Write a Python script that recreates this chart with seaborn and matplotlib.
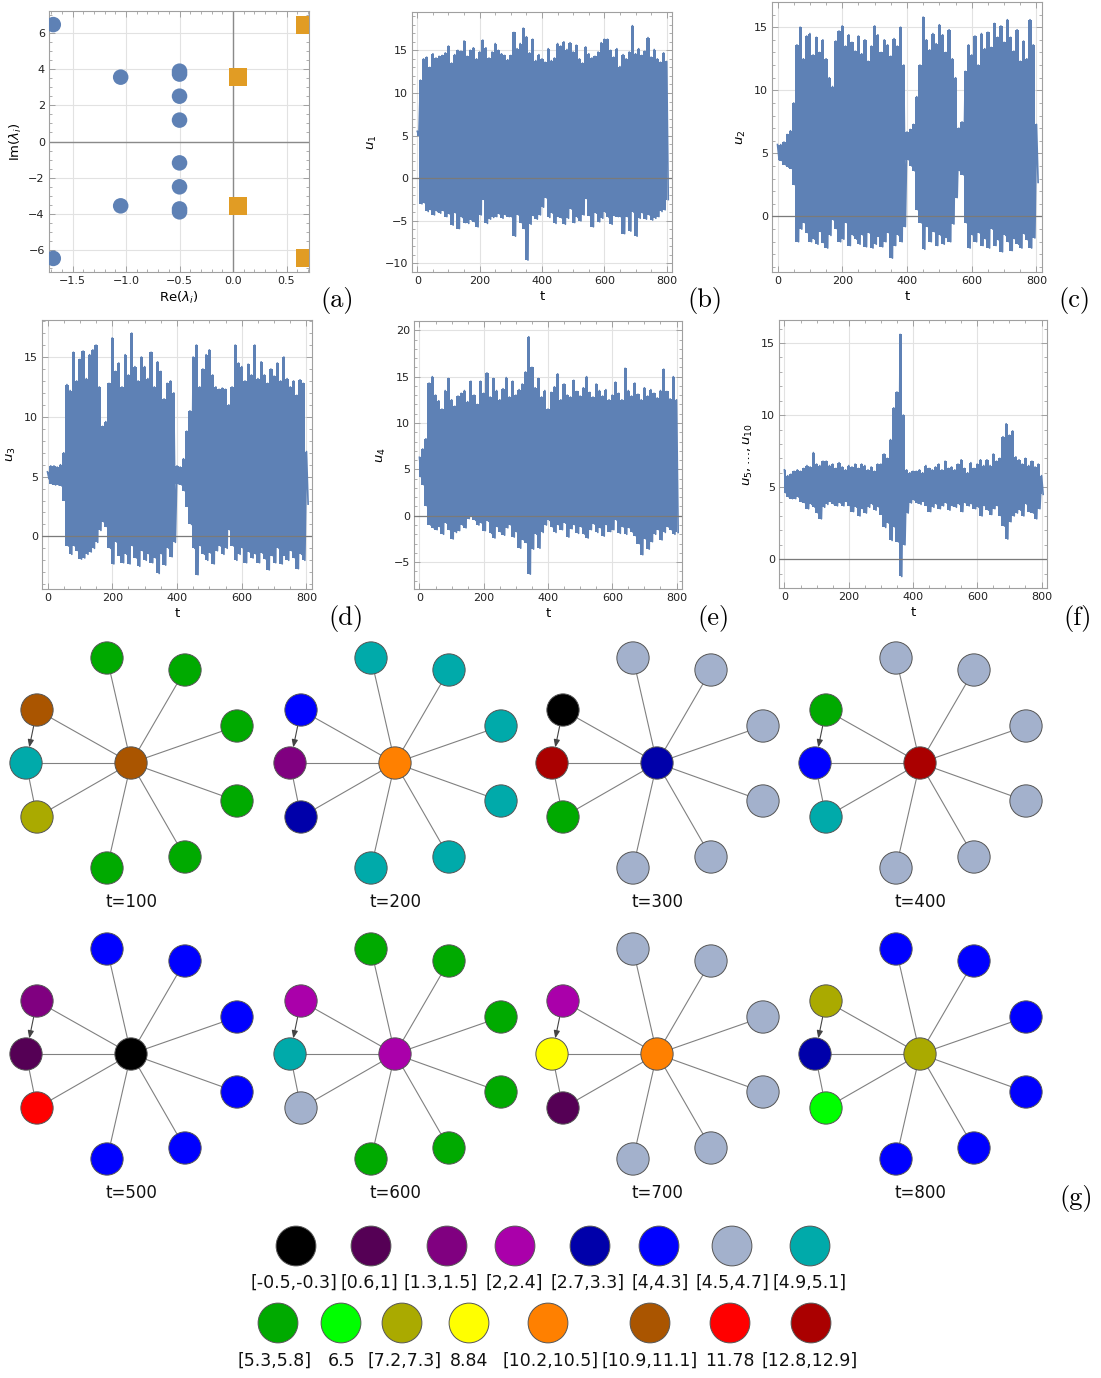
import matplotlib
matplotlib.use("Agg")
import matplotlib.pyplot as plt
import seaborn as sns
import pandas as pd
import numpy as np
from matplotlib.ticker import MultipleLocator

# ---- panel (a): eigenvalues ----
stable_re = [-1.68, -1.68, -1.05, -1.05, -0.5, -0.5, -0.5, -0.5, -0.5, -0.5, -0.5, -0.5]
stable_im = [6.45, -6.45, 3.55, -3.55, 3.72, 3.88, 2.5, 1.18, -1.18, -2.5, -3.72, -3.88]
unstable_re = [0.05, 0.05, 0.67, 0.67]
unstable_im = [3.55, -3.55, 6.45, -6.45]

# ---- panels (b)-(f): upper / lower envelopes read every 10 time units ----
t_grid = list(range(0, 801, 10))

u1_hi = [5.5, 11.5, 14.0, 14.2, 13.0, 14.6, 14.1, 14.3, 14.4, 14.7,
         15.5, 13.5, 14.5, 15.0, 14.9, 16.1, 14.3, 15.0, 15.3, 14.0,
         14.8, 16.2, 15.3, 14.1, 14.8, 15.8, 15.0, 14.6, 14.4, 13.9,
         14.4, 17.1, 15.2, 15.8, 17.6, 16.6, 14.7, 16.3, 13.8, 14.5,
         14.0, 13.6, 15.2, 13.8, 14.1, 15.8, 15.5, 16.0, 15.1, 15.9,
         14.8, 15.6, 14.0, 13.5, 15.4, 14.6, 14.1, 14.3, 14.8, 15.9,
         16.3, 16.3, 15.0, 14.2, 15.2, 13.1, 14.5, 14.0, 14.8, 17.9,
         14.6, 15.2, 14.4, 14.9, 16.5, 14.2, 15.1, 14.0, 13.6, 14.7,
         13.7]
u1_lo = [5.0, -3.0, -2.9, -3.9, -3.7, -4.3, -3.9, -4.1, -3.8, -4.5,
         -4.2, -5.5, -4.1, -5.9, -4.6, -5.2, -5.3, -4.9, -5.1, -5.7,
         -4.3, -2.5, -5.3, -4.8, -4.6, -4.5, -4.2, -4.7, -4.3, -4.5,
         -4.6, -6.8, -4.3, -5.2, -5.9, -9.6, -5.4, -4.4, -4.8, -4.3,
         -3.4, -2.3, -4.6, -4.1, -5.3, -4.5, -4.7, -5.4, -4.7, -3.6,
         -5.2, -4.6, -5.0, -4.3, -2.4, -4.4, -5.7, -4.1, -5.1, -4.7,
         -4.0, -4.6, -5.4, -4.4, -4.5, -4.6, -6.5, -4.5, -6.2, -4.0,
         -6.8, -4.7, -4.1, -4.8, -4.3, -4.9, -4.7, -4.5, -3.9, -3.7,
         -2.5]

u2_hi = [5.7, 5.7, 5.9, 6.5, 6.8, 9.0, 13.6, 15.0, 12.5, 14.3,
         14.5, 12.8, 14.2, 13.0, 14.0, 12.5, 11.0, 10.3, 13.9, 14.7,
         15.1, 13.5, 14.4, 13.8, 13.1, 14.3, 12.9, 14.0, 12.3, 13.5,
         15.1, 14.4, 13.0, 14.0, 13.6, 12.7, 14.1, 13.5, 15.0, 12.0,
         6.7, 6.9, 7.3, 9.5, 12.0, 15.8, 14.0, 13.2, 14.5, 13.7,
         15.2, 14.4, 13.0, 14.8, 12.5, 11.0, 7.0, 7.5, 11.5, 13.6,
         12.8, 14.3, 12.0, 14.5, 13.3, 14.6, 13.4, 15.3, 14.2, 15.1,
         13.8, 15.6, 14.2, 13.1, 14.8, 12.3, 13.9, 12.5, 15.6, 13.6,
         7.3]
u2_lo = [4.5, 4.4, 4.1, 3.9, 3.8, 2.5, -2.0, -1.0, -0.5, -1.3,
         -2.0, -1.8, -2.2, -1.2, -2.1, -2.5, -1.5, -0.3, -1.0, -2.0,
         -1.8, -0.5, -2.3, -1.5, -1.8, -2.2, -1.5, -2.4, -1.3, -2.5,
         -2.2, -1.6, -2.4, -2.0, -1.3, -3.3, -2.3, -1.5, -2.0, -0.8,
         4.5, 4.0, 3.6, 0.5, -0.5, -2.6, -0.8, -2.0, -1.2, -2.3,
         -1.5, -2.2, -1.7, -2.0, -0.6, 1.5, 3.6, 3.3, -0.5, -2.5,
         -1.5, -2.0, -1.3, -2.3, -1.8, -2.5, -1.0, -2.3, -1.9, -2.8,
         -1.5, -2.0, -2.7, -1.8, -2.2, -2.5, -1.4, -1.9, -2.5, -1.7,
         2.7]

u3_hi = [5.4, 5.9, 5.9, 5.8, 6.0, 7.0, 12.7, 12.2, 15.4, 13.0,
         14.8, 15.5, 13.2, 15.2, 15.6, 16.0, 12.5, 9.2, 9.6, 12.8,
         16.6, 13.8, 14.5, 12.5, 15.2, 13.5, 17.0, 14.2, 13.0, 15.0,
         14.2, 13.2, 15.4, 12.5, 14.6, 13.8, 11.5, 12.8, 13.0, 12.0,
         5.9, 5.8, 6.5, 8.8, 10.5, 15.0, 16.0, 12.5, 14.0, 15.2,
         15.6, 13.5, 12.5, 12.3, 12.4, 12.3, 11.0, 12.5, 16.0, 14.5,
         14.2, 13.0, 14.4, 13.5, 16.0, 13.2, 14.6, 13.5, 12.8, 14.0,
         13.4, 14.5, 13.0, 15.0, 13.2, 12.5, 13.0, 11.8, 13.1, 12.8,
         7.1]
u3_lo = [4.8, 4.4, 4.3, 4.3, 4.2, 3.0, -0.8, -1.5, -0.8, -1.2,
         -1.9, -1.8, -1.5, -1.3, -1.0, -0.5, 0.5, 1.2, 0.8, -1.0,
         -2.3, -0.5, -1.6, -2.2, -1.5, -2.3, -0.8, -1.8, -2.5, -1.2,
         -2.0, -1.5, -2.2, -1.8, -3.1, -1.5, -2.4, -1.0, -1.7, -0.5,
         4.4, 4.3, 3.8, 2.5, 1.0, -1.0, -3.2, -0.8, -1.5, -2.0,
         -1.4, -2.3, -1.2, -0.8, -1.5, -1.0, 0.5, -0.8, -2.0, -1.5,
         -1.0, -2.2, -1.3, -1.8, -1.5, -2.2, -1.4, -1.9, -2.8, -1.6,
         -2.2, -1.0, -2.3, -1.6, -2.0, -1.2, -1.8, -2.7, -1.5, -2.0,
         2.7]

u4_hi = [6.3, 7.2, 8.3, 14.3, 15.0, 13.0, 12.4, 11.5, 13.5, 14.8,
         12.5, 11.8, 12.9, 13.2, 13.5, 12.3, 14.5, 13.0, 12.0, 14.5,
         13.2, 15.4, 12.8, 14.8, 13.5, 12.5, 13.7, 14.9, 12.8, 14.5,
         13.0, 13.6, 14.2, 15.5, 19.3, 16.0, 13.8, 14.8, 12.8, 13.5,
         11.5, 13.3, 13.9, 15.3, 12.5, 14.2, 13.0, 12.8, 14.6, 13.4,
         12.9, 13.8, 15.0, 13.3, 12.8, 14.2, 13.5, 12.9, 13.6, 12.5,
         13.0, 14.4, 13.2, 12.5, 15.9, 13.5, 12.9, 14.3, 13.1, 12.5,
         13.8, 12.9, 13.6, 13.2, 12.7, 13.5, 15.8, 13.4, 12.6, 15.0,
         12.5]
u4_lo = [4.2, 3.3, 1.0, -1.0, -1.3, -1.5, -1.2, -2.0, -0.8, -1.5,
         -2.5, -1.8, -1.6, -1.0, -1.3, -0.3, 0.0, -0.5, -1.0, -0.8,
         -1.6, -0.6, -1.9, -2.4, -1.2, -1.8, -2.1, -1.3, -1.0, -2.3,
         -1.8, -3.5, -2.6, -2.9, -6.3, -3.6, -2.0, -3.5, -1.8, -1.0,
         -0.5, -1.2, -1.8, -1.0, -1.5, -0.8, -2.3, -1.4, -1.0, -1.9,
         -1.2, -2.0, -2.4, -1.5, -0.9, -1.8, -1.3, -2.2, -1.0, -1.7,
         -1.5, -0.5, -1.9, -1.2, -2.0, -1.3, -1.8, -2.2, -3.0, -4.2,
         -2.5, -3.6, -2.8, -2.0, -1.5, -2.6, -1.8, -1.2, -1.5, -2.0,
         -1.8]

u5_hi = [6.2, 5.8, 5.9, 6.1, 6.2, 6.1, 6.3, 6.5, 6.4, 7.4,
         6.6, 6.5, 6.8, 6.8, 6.5, 6.6, 6.3, 6.7, 6.4, 6.2,
         6.5, 6.4, 6.6, 6.3, 6.6, 6.5, 6.2, 6.4, 6.1, 6.6,
         6.6, 7.3, 7.0, 8.3, 10.5, 11.6, 15.6, 10.0, 6.2, 6.0,
         6.1, 6.1, 6.2, 6.0, 6.5, 6.3, 6.2, 6.4, 6.6, 6.2,
         6.8, 6.3, 6.4, 6.2, 6.6, 6.9, 6.3, 6.0, 6.7, 6.3,
         6.6, 6.9, 6.5, 6.9, 6.5, 7.3, 6.8, 7.0, 8.5, 9.4,
         8.6, 8.9, 7.1, 6.9, 6.6, 7.0, 6.5, 6.8, 6.4, 6.6,
         5.8]
u5_lo = [4.6, 4.3, 4.2, 4.2, 4.3, 4.0, 3.9, 3.5, 3.8, 3.6,
         3.2, 2.8, 3.6, 3.8, 4.0, 3.8, 3.7, 3.9, 3.7, 4.0,
         3.7, 3.3, 3.6, 3.0, 3.5, 3.2, 3.6, 3.8, 3.4, 3.6,
         3.1, 2.2, 2.5, 1.3, 2.2, 1.2, -1.2, 1.0, 3.2, 3.9,
         4.1, 3.9, 3.8, 4.0, 3.7, 3.3, 3.6, 3.8, 3.5, 3.7,
         3.9, 3.4, 3.7, 3.6, 3.8, 3.3, 3.9, 3.7, 3.8, 3.5,
         3.6, 3.0, 3.7, 3.4, 3.1, 3.5, 3.7, 3.0, 2.3, 1.4,
         2.6, 3.0, 3.2, 3.4, 3.0, 3.8, 3.3, 3.2, 2.8, 3.5,
         4.5]

# ---- panel (g): colour classes ----
legend_labels = ['[-0.5,-0.3]', '[0.6,1]', '[1.3,1.5]', '[2,2.4]', '[2.7,3.3]', '[4,4.3]', '[4.5,4.7]', '[4.9,5.1]',
                 '[5.3,5.8]', '6.5', '[7.2,7.3]', '8.84', '[10.2,10.5]', '[10.9,11.1]', '11.78', '[12.8,12.9]']
legend_colors = ['#000000', '#550055', '#800080', '#AA00AA', '#0000AA', '#0000FF', '#A3B1CC', '#00AAAA',
                 '#00AA00', '#00FF00', '#AAAA00', '#FFFF00', '#FF8000', '#AA5500', '#FF0000', '#AA0000']

g_times = [100, 200, 300, 400, 500, 600, 700, 800]
center_cat = ['[10.9,11.1]', '[10.2,10.5]', '[2.7,3.3]', '[12.8,12.9]', '[-0.5,-0.3]', '[2,2.4]', '[10.2,10.5]', '[7.2,7.3]']
topleft_cat = ['[10.9,11.1]', '[4,4.3]', '[-0.5,-0.3]', '[5.3,5.8]', '[1.3,1.5]', '[2,2.4]', '[2,2.4]', '[7.2,7.3]']
left_cat = ['[4.9,5.1]', '[1.3,1.5]', '[12.8,12.9]', '[4,4.3]', '[0.6,1]', '[4.9,5.1]', '8.84', '[2.7,3.3]']
botleft_cat = ['[7.2,7.3]', '[2.7,3.3]', '[5.3,5.8]', '[4.9,5.1]', '11.78', '[4.5,4.7]', '[0.6,1]', '6.5']
outer_cat = ['[5.3,5.8]', '[4.9,5.1]', '[4.5,4.7]', '[4.5,4.7]', '[4,4.3]', '[5.3,5.8]', '[4.5,4.7]', '[4,4.3]']

W, H = 1101, 1378
BLUE = '#5E81B5'
ORANGE = '#E19C24'
FRAME = '#a0a0a0'

fig = plt.figure(figsize=(W / 100, H / 100), dpi=100)


def px_axes(x0, y0, x1, y1):
    return fig.add_axes([x0 / W, 1 - y1 / H, (x1 - x0) / W, (y1 - y0) / H])


def mma_frame(ax, xmaj, xmin, ymaj, ymin):
    ax.xaxis.set_major_locator(MultipleLocator(xmaj))
    ax.xaxis.set_minor_locator(MultipleLocator(xmin))
    ax.yaxis.set_major_locator(MultipleLocator(ymaj))
    ax.yaxis.set_minor_locator(MultipleLocator(ymin))
    ax.grid(True, which='major', color='#e2e2e2', lw=0.8)
    ax.set_axisbelow(True)
    for s in ax.spines.values():
        s.set_color(FRAME)
        s.set_linewidth(0.8)
    ax.tick_params(which='both', direction='in', top=True, right=True,
                   color=FRAME, labelsize=8, labelcolor='#222', pad=3)
    ax.tick_params(which='major', length=4, width=0.7)
    ax.tick_params(which='minor', length=2, width=0.6)


def panel_label(x, y, s):
    fig.text(x / W, 1 - y / H, s, fontfamily='cmr10', fontsize=19, ha='center', va='center')


# (a)
ax = px_axes(49, 11, 309, 272)
ax.axhline(0, color='#8a8a8a', lw=1.0, zorder=1)
ax.axvline(0, color='#8a8a8a', lw=1.0, zorder=1)
sns.scatterplot(x=stable_re, y=stable_im, color=BLUE, s=125, marker='o', edgecolor='none', ax=ax, zorder=3)
sns.scatterplot(x=unstable_re, y=unstable_im, color=ORANGE, s=165, marker='s', edgecolor='none', ax=ax, zorder=3)
ax.set_xlim(-1.72, 0.71)
ax.set_ylim(-7.2, 7.2)
mma_frame(ax, 0.5, 0.1, 2, 0.5)
ax.set_xlabel(r'Re($\lambda_i$)', fontsize=9.5, labelpad=3)
ax.set_ylabel(r'Im($\lambda_i$)', fontsize=9.5, labelpad=3)
panel_label(337, 300, '(a)')


def series_panel(box, hi, lo, ylim, ymaj, ylabel, lab_xy, lab):
    ax = px_axes(*box)
    # dense oscillation: filled band between the read envelopes plus the zigzag trace
    ax.fill_between(t_grid, lo, hi, step='mid', color=BLUE, lw=0, zorder=2)
    xs, ys = [], []
    for t, h, l in zip(t_grid, hi, lo):
        xs += [t, t + 5]
        ys += [h, l]
    sns.lineplot(x=xs, y=ys, sort=False, estimator=None, color=BLUE, lw=1.2, ax=ax, zorder=2)
    ax.axhline(0, color='#7a7a7a', lw=0.9, zorder=3)
    ax.set_xlim(-17, 817)
    ax.set_ylim(*ylim)
    mma_frame(ax, 200, 50, ymaj, 1)
    ax.set_xlabel('t', fontsize=9.5, labelpad=3)
    ax.set_ylabel(ylabel, fontsize=9.5, labelpad=4)
    panel_label(lab_xy[0], lab_xy[1], lab)


series_panel((412, 12, 672, 272), u1_hi, u1_lo, (-11.0, 19.5), 5, r'$u_1$', (705, 300), '(b)')
series_panel((772, 2, 1042, 272), u2_hi, u2_lo, (-4.4, 17.0), 5, r'$u_2$', (1074, 300), '(c)')
series_panel((42, 320, 312, 589), u3_hi, u3_lo, (-4.4, 18.1), 5, r'$u_3$', (346, 618), '(d)')
series_panel((414, 321, 682, 589), u4_hi, u4_lo, (-7.9, 21.0), 5, r'$u_4$', (713, 618), '(e)')
series_panel((779, 320, 1047, 588), u5_hi, u5_lo, (-2.0, 16.6), 5, r'$u_5,\ldots,u_{10}$', (1078, 618), '(f)')

# (g) network snapshots, drawn in a pixel-coordinate axes
gax = fig.add_axes([0, 0, 1, (H - 630) / H])
gax.axis('off')

color_map = dict(zip(legend_labels, legend_colors))
centers_x = [131, 395, 657, 920]
centers_y = [763, 1054]
outer_off = [(-24, -105), (54, -93), (106, -37), (106, 38), (54, 94), (-24, 105)]
tl_off, l_off, bl_off = (-94, -53), (-105, 0), (-94, 54)

rows = []
for k, t in enumerate(g_times):
    cx = centers_x[k % 4]
    cy = centers_y[k // 4]
    pts = [((cx, cy), center_cat[k]),
           ((cx + tl_off[0], cy + tl_off[1]), topleft_cat[k]),
           ((cx + l_off[0], cy + l_off[1]), left_cat[k]),
           ((cx + bl_off[0], cy + bl_off[1]), botleft_cat[k])]
    pts += [((cx + dx, cy + dy), outer_cat[k]) for dx, dy in outer_off]
    for (x, y), c in pts[1:]:
        gax.plot([cx, x], [cy, y], color='#808080', lw=0.8, zorder=1)
    lx, ly = pts[2][0]
    bx, by = pts[3][0]
    gax.plot([lx, bx], [ly, by], color='#808080', lw=0.8, zorder=1)
    gax.annotate('', xy=pts[2][0], xytext=pts[1][0],
                 arrowprops=dict(arrowstyle='-|>,head_length=0.45,head_width=0.18',
                                 color='#444444', lw=0.8, shrinkA=11.5, shrinkB=11.5),
                 zorder=2)
    for (x, y), c in pts:
        rows.append({'x': x, 'y': y, 'cat': c})
    gax.text(cx, cy + 139, f't={t}', ha='center', va='center', fontsize=12, color='#111')

nodes = pd.DataFrame(rows)
sns.scatterplot(data=nodes, x='x', y='y', hue='cat', palette=color_map, s=540,
                edgecolor='#555555', linewidth=0.7, legend=False, ax=gax, zorder=3)

# colour legend
leg_x = [296, 371, 447, 515, 590, 659, 732, 810,
         278, 341, 402, 469, 548, 650, 730, 811]
leg_tx = [294, 369, 441, 514, 588, 660, 732, 810,
          275, 342, 405, 469, 551, 650, 730, 810]
leg = pd.DataFrame({'x': leg_x, 'y': [1246] * 8 + [1323] * 8, 'cat': legend_labels})
sns.scatterplot(data=leg, x='x', y='y', hue='cat', palette=color_map, s=820,
                edgecolor='#555555', linewidth=0.7, legend=False, ax=gax, zorder=3)
for i, lab in enumerate(legend_labels):
    ty = 1283 if i < 8 else 1361
    gax.text(leg_tx[i], ty, lab, ha='center', va='center', fontsize=12.5, color='#111')

gax.set_xlim(0, W)
gax.set_ylim(H, 630)
gax.set_xlabel('')
gax.set_ylabel('')

panel_label(1076, 1199, '(g)')

fig.savefig('out.png', dpi=100)
